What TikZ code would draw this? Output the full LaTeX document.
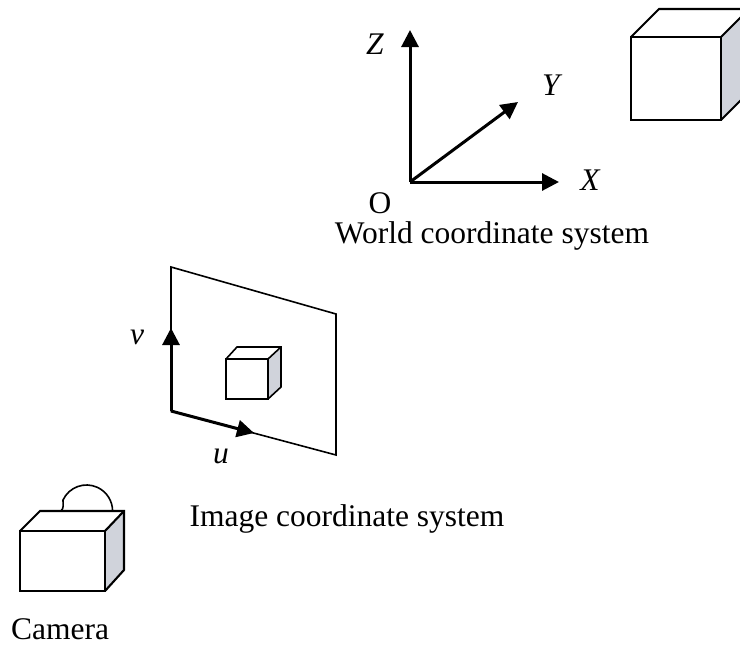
\documentclass[tikz,border=0pt]{standalone}
\usepackage{fontspec}
\setmainfont{Liberation Serif}
\usetikzlibrary{arrows.meta}
\definecolor{sidegrey}{RGB}{208,211,219}
\begin{document}
\begin{tikzpicture}[x=1pt,y=-1pt,
  axis/.style={line width=3pt,-{Triangle[length=17pt,width=17pt]}},
  edge/.style={line width=2.1pt,line join=miter},
  thinedge/.style={line width=1.6pt,line join=miter},
  lbl/.style={font=\fontsize{31.5}{34}\selectfont,inner sep=0pt},
  axlbl/.style={font=\fontsize{31.5}{34}\selectfont\itshape,inner sep=0pt}]
\useasboundingbox (0,0) rectangle (740,648);

% ---- world coordinate system ----
\coordinate (O) at (410,182);
\coordinate (Zt) at (410,30);
\coordinate (Xt) at (559,182);
\coordinate (Yt) at (518,102);
\draw[axis] (O) -- (Zt);
\draw[axis] (O) -- (Xt);
\draw[axis] (O) -- (Yt);
\node[axlbl] (zl) at (375,44) {Z};
\node[axlbl] (yl) at (551,85) {Y};
\node[axlbl] (xl) at (590,180) {X};
\node[lbl,anchor=base] (ol) at (380,213) {O};
\node[lbl,anchor=base] (wcs) at (492,243) {World coordinate system};

% ---- object cube ----
\fill[white] (631,37) -- (659,9) -- (749,9) -- (721,37) -- cycle;
\fill[sidegrey] (721,37) -- (749,9) -- (749,92) -- (721,120) -- cycle;
\draw[edge] (631,37) rectangle (721,120);
\draw[edge] (631,37) -- (659,9) -- (749,9) -- (749,92) -- (721,120);
\draw[edge] (721,37) -- (749,9);

% ---- image plane ----
\draw[thinedge] (171,411) -- (171,267) -- (336,314) -- (336,455) -- (171,411);
\coordinate (I) at (171,411);
\coordinate (vt) at (171,328);
\coordinate (ut) at (254,433);
\draw[axis] (I) -- (vt);
\draw[axis] (I) -- (ut);
\node[axlbl] (vl) at (137,337) {v};
\node[axlbl] (ul) at (221,456) {u};

% small cube projected on the plane
\fill[sidegrey] (268,359) -- (281,347) -- (281,387) -- (268,399) -- cycle;
\draw[thinedge] (226,359) rectangle (268,399);
\draw[thinedge] (226,359) -- (237,347) -- (281,347) -- (281,387) -- (268,399);
\draw[thinedge] (268,359) -- (281,347);
\node[lbl,anchor=base] (ics) at (347,526) {Image coordinate system};

% ---- camera ----
\draw[thinedge] (61,511) .. controls (64,508) and (63,505) .. (63,500)
  arc[start angle=155,end angle=0,radius=26pt];
\fill[sidegrey] (105,531) -- (124,511) -- (124,570) -- (105,591) -- cycle;
\draw[edge] (20,531) rectangle (105,591);
\draw[edge] (20,531) -- (40,511) -- (124,511) -- (124,570) -- (105,591);
\draw[edge] (105,531) -- (124,511);
\node[lbl,anchor=base] (cam) at (60,639) {Camera};
\end{tikzpicture}
\end{document}
